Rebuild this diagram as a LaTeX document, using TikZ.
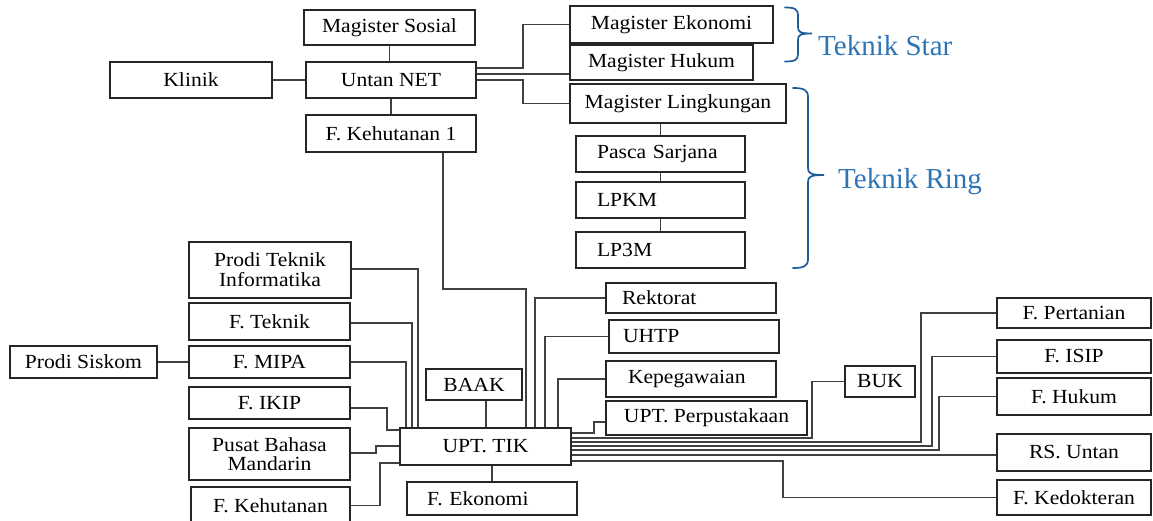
\documentclass[tikz,border=0pt]{standalone}
\usepackage{fontspec}
\setmainfont{Liberation Serif}[FakeStretch=1.08]
\newfontfamily\bluefont{Liberation Serif}
\definecolor{tblue}{HTML}{2E75B6}
\definecolor{bblue}{HTML}{1F5C99}
\begin{document}
\begin{tikzpicture}[x=1pt,y=-1pt,
  box/.style={draw=black!85, line width=1.1pt, inner sep=0pt, font=\fontsize{20}{20}\selectfont, align=center},
  lft/.style={align=left, inner xsep=#1},
  wire/.style={draw=black!75, line width=1.2pt},
  brc/.style={draw=bblue, line width=1.7pt, line cap=round},
  lbl/.style={text=tblue, font=\bluefont\fontsize{29}{30}\selectfont, anchor=west, inner sep=0pt}]
\useasboundingbox (0,0) rectangle (1153,521);
% top group
\node[box, minimum width=171pt, minimum height=35pt] (msos) at (389.5,27.5) {Magister Sosial};
\node[box, minimum width=162pt, minimum height=36pt] (klinik) at (191,80) {Klinik};
\node[box, minimum width=170pt, minimum height=36pt] (untan) at (391,80) {Untan NET};
\node[box, minimum width=170pt, minimum height=37pt] (fkeh1) at (391,133.5) {F. Kehutanan 1};
\node[box, minimum width=203pt, minimum height=37pt] (mek) at (671.5,24.5) {Magister Ekonomi};
\node[box, minimum width=183pt, minimum height=35pt] (mhuk) at (661.5,62.5) {Magister Hukum};
\node[box, minimum width=216pt, minimum height=39pt] (mling) at (678,103.5) {Magister Lingkungan};
\node[box, lft=21pt, text width=127pt, minimum height=36pt] (pasca) at (660.5,154) {Pasca Sarjana};
\node[box, lft=21pt, text width=127pt, minimum height=36pt] (lpkm) at (660.5,200) {LPKM};
\node[box, lft=21pt, text width=127pt, minimum height=36pt] (lp3m) at (660.5,250) {LP3M};
% braces and labels
\draw[brc] (785,7.5) .. controls (795,7.5) and (798,9) .. (798,16) -- (798,27)
  .. controls (798,32) and (800,33.5) .. (812,33.5)
  .. controls (800,33.5) and (798,35) .. (798,40) -- (798,54)
  .. controls (798,60) and (795,61.5) .. (785,61.5);
\node[lbl] (tstar) at (818,46) {Teknik Star};
\draw[brc] (793,88) .. controls (804,88) and (808,90) .. (808,97) -- (808,168)
  .. controls (808,173) and (810,175) .. (824,175)
  .. controls (810,175) and (808,177) .. (808,182) -- (808,259)
  .. controls (808,266) and (804,268) .. (793,268);
\node[lbl] (tring) at (838,182) {Teknik Ring};
% bottom left
\node[box, minimum width=162pt, minimum height=56pt] (pti) at (270,270) {Prodi Teknik\\Informatika};
\node[box, minimum width=161pt, minimum height=37pt] (ftek) at (269.5,321.5) {F. Teknik};
\node[box, minimum width=161pt, minimum height=32pt] (fmipa) at (269.5,362) {F. MIPA};
\node[box, minimum width=147pt, minimum height=32pt] (siskom) at (83.5,362) {Prodi Siskom};
\node[box, minimum width=161pt, minimum height=32pt] (fikip) at (269.5,403) {F. IKIP};
\node[box, minimum width=161pt, minimum height=52pt, font=\fontsize{20}{19}\selectfont] (pbm) at (269.5,454) {Pusat Bahasa\\Mandarin};
\node[box, minimum width=159pt, minimum height=37pt] (fkeh) at (270.5,505.5) {F. Kehutanan};
% centre
\node[box, minimum width=171pt, minimum height=37pt] (upt) at (485.5,446.5) {UPT. TIK};
\node[box, minimum width=96pt, minimum height=31pt] (baak) at (474,384.5) {BAAK};
\node[box, lft=20pt, text width=130pt, minimum height=33pt] (fek) at (492,498.5) {F. Ekonomi};
% right middle
\node[box, lft=16pt, text width=138pt, minimum height=30pt] (rekt) at (691,298) {Rektorat};
\node[box, lft=14pt, text width=142pt, minimum height=33pt] (uhtp) at (694,336.5) {UHTP};
\node[box, lft=22pt, text width=126pt, minimum height=36pt] (kepeg) at (691,379) {Kepegawaian};
\node[box, minimum width=201pt, minimum height=34pt] (uptp) at (706.5,418) {UPT. Perpustakaan};
\node[box, minimum width=70pt, minimum height=31pt] (buk) at (880,381.5) {BUK};
% far right
\node[box, minimum width=154pt, minimum height=30pt] (fpert) at (1074,313) {F. Pertanian};
\node[box, minimum width=154pt, minimum height=33pt] (fisip) at (1074,356.5) {F. ISIP};
\node[box, minimum width=154pt, minimum height=37pt] (fhuk) at (1074,396.5) {F. Hukum};
\node[box, minimum width=154pt, minimum height=37pt] (rsu) at (1074,452.5) {RS. Untan};
\node[box, minimum width=154pt, minimum height=35pt] (fkedok) at (1074,497.5) {F. Kedokteran};
% connectors top
\draw[wire] (msos.south) -- (msos.south |- untan.north);
\draw[wire] (klinik.east) -- (untan.west);
\draw[wire] (untan.south) -- (fkeh1.north);
\draw[wire] (untan.east |- 0,68) -| (523,24.5) -- (mek.west);
\draw[wire] (untan.east |- 0,74) -- (mhuk.west |- 0,74);
\draw[wire] (untan.east |- 0,80) -| (523,103.5) -- (mling.west);
\draw[wire] (pasca.north |- mling.south) -- (pasca.north);
\draw[wire] (pasca.south) -- (lpkm.north);
\draw[wire] (lpkm.south) -- (lp3m.north);
\draw[wire] (443,0 |- fkeh1.south) |- (526,289) -- (526,0 |- upt.north);
% connectors left
\draw[wire] (pti.east |- 0,269) -| (418,0 |- upt.north);
\draw[wire] (ftek.east |- 0,323) -| (412,0 |- upt.north);
\draw[wire] (fmipa.east) -| (406,0 |- upt.north);
\draw[wire] (siskom.east) -- (fmipa.west);
\draw[wire] (fikip.east |- 0,408) -| (387,430) -- (upt.west |- 0,430);
\draw[wire] (pbm.east |- 0,453) -| (376,446) -- (upt.west |- 0,446);
\draw[wire] (fkeh.east) -| (380,463) -- (upt.west |- 0,463);
\draw[wire] (486,0 |- baak.south) -- (486,0 |- upt.north);
\draw[wire] (fek.north |- upt.south) -- (fek.north);
% connectors right
\draw[wire] (rekt.west) -| (535,0 |- upt.north);
\draw[wire] (uhtp.west) -| (545,0 |- upt.north);
\draw[wire] (kepeg.west) -| (558,0 |- upt.north);
\draw[wire] (uptp.west |- 0,422) -| (594,433) -- (upt.east |- 0,433);
\draw[wire] (upt.east |- 0,438) -| (812,381.5) -- (buk.west);
\draw[wire] (upt.east |- 0,442) -| (921,313) -- (fpert.west);
\draw[wire] (upt.east |- 0,446) -| (932,356.5) -- (fisip.west);
\draw[wire] (upt.east |- 0,450) -| (939,396.5) -- (fhuk.west);
\draw[wire] (upt.east |- 0,455) -- (rsu.west |- 0,455);
\draw[wire] (upt.east |- 0,461) -| (783,497.5) -- (fkedok.west);
\end{tikzpicture}
\end{document}
